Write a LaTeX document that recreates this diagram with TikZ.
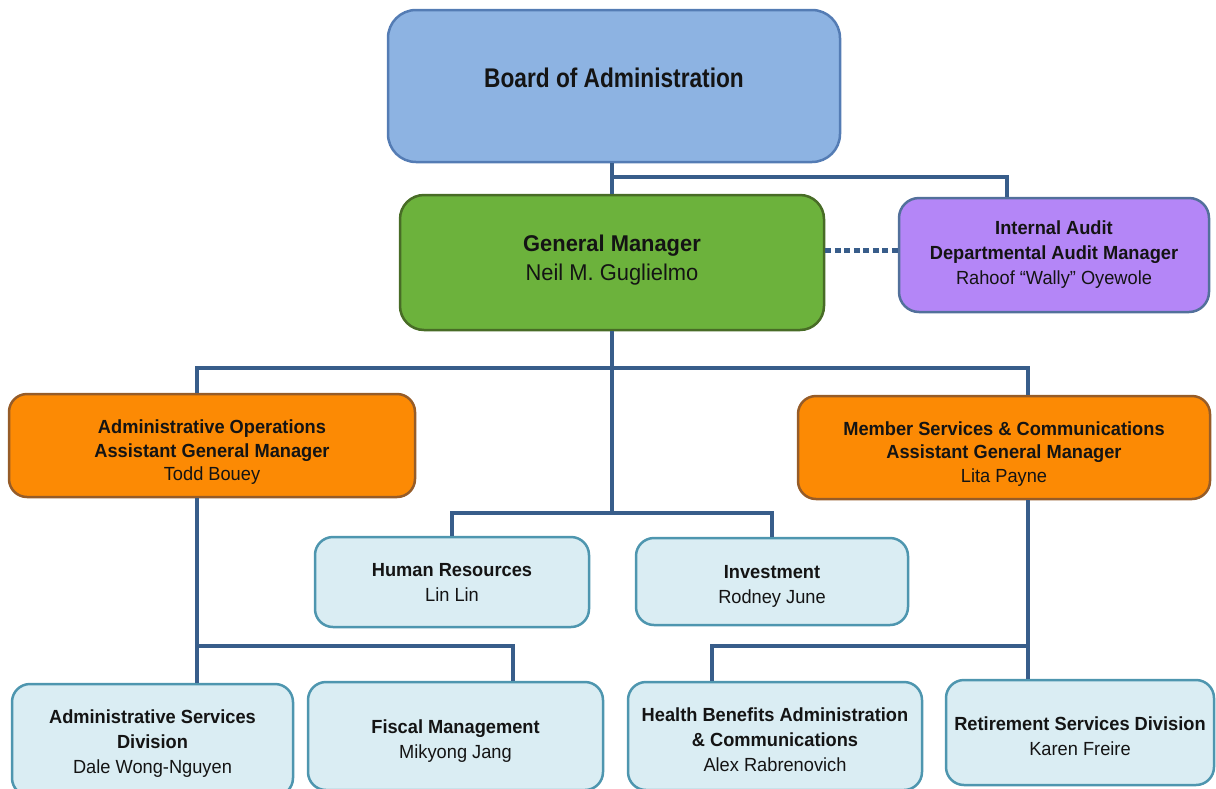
\documentclass[tikz,border=0pt]{standalone}
\usepackage{fontspec}
\setmainfont{Liberation Sans}[FakeStretch=0.96]
\newfontfamily\boardfont{Liberation Sans}[FakeStretch=0.84]
\definecolor{lnc}{RGB}{56,93,138}
\definecolor{boardfill}{RGB}{141,179,226}
\definecolor{boarddraw}{RGB}{84,124,180}
\definecolor{gmfill}{RGB}{108,178,60}
\definecolor{gmdraw}{RGB}{72,108,38}
\definecolor{audfill}{RGB}{180,134,247}
\definecolor{auddraw}{RGB}{82,112,155}
\definecolor{orfill}{RGB}{252,138,4}
\definecolor{ordraw}{RGB}{150,92,40}
\definecolor{ltfill}{RGB}{218,237,243}
\definecolor{ltdraw}{RGB}{78,150,175}
\definecolor{txt}{RGB}{20,20,20}
\tikzset{
  box/.style={draw, line width=2.5pt, rounded corners=18pt, inner sep=0pt},
  boardbox/.style={box, fill=boardfill, draw=boarddraw, rounded corners=28pt},
  gmbox/.style={box, fill=gmfill, draw=gmdraw, rounded corners=24pt},
  audbox/.style={box, fill=audfill, draw=auddraw, rounded corners=20pt},
  orbox/.style={box, fill=orfill, draw=ordraw},
  ltbox/.style={box, fill=ltfill, draw=ltdraw},
  lbl/.style={align=center, inner sep=0pt, text=txt, font=\fontsize{19}{25}\selectfont},
  orlbl/.style={lbl, font=\fontsize{19}{23.5}\selectfont},
  gmlbl/.style={lbl, font=\fontsize{22.8}{29}\selectfont},
  boardlbl/.style={lbl, font=\boardfont\fontsize{27}{32}\selectfont\bfseries},
  conn/.style={draw=lnc, line width=4.5pt},
  dotconn/.style={draw=lnc, line width=5pt, dash pattern=on 6pt off 3.5pt}
}
\begin{document}
\begin{tikzpicture}[x=1pt,y=-1pt]
\useasboundingbox (0,0) rectangle (1216,788);

\coordinate (j1) at (612,177);
\coordinate (j2) at (612,368);
\coordinate (j3) at (612,513);
\coordinate (aL) at (197,646);
\coordinate (aR) at (1028,646);

% boxes
\node[boardbox, minimum width=452pt, minimum height=152pt] (board) at (614,86) {};
\node[gmbox, minimum width=424pt, minimum height=135pt] (gm) at (612,262.5) {};
\node[audbox, minimum width=310pt, minimum height=114pt] (audit) at (1054,255) {};
\node[orbox, minimum width=406pt, minimum height=103pt] (adminops) at (212,445.5) {};
\node[orbox, minimum width=412pt, minimum height=103pt] (member) at (1004,447.5) {};
\node[ltbox, minimum width=274pt, minimum height=90pt] (hr) at (452,582) {};
\node[ltbox, minimum width=272pt, minimum height=87pt] (inv) at (772,581.5) {};
\node[ltbox, minimum width=281pt, minimum height=112pt] (adminsvc) at (152.5,740) {};
\node[ltbox, minimum width=295pt, minimum height=108pt] (fiscal) at (455.5,736) {};
\node[ltbox, minimum width=294pt, minimum height=108pt] (health) at (775,736) {};
\node[ltbox, minimum width=268pt, minimum height=105pt] (retire) at (1080,732.5) {};

% texts
\node[boardlbl] (board-t) at (board.center |- 0,78) {Board of Administration};
\node[gmlbl] (gm-t) at (gm.center |- 0,260.5) {\textbf{General Manager}\\Neil M. Guglielmo};
\node[lbl] (audit-t) at (audit.center |- 0,254.5) {\textbf{Internal Audit}\\\textbf{Departmental Audit Manager}\\Rahoof “Wally” Oyewole};
\node[orlbl] (adminops-t) at (adminops.center |- 0,452.5) {\textbf{Administrative Operations}\\\textbf{Assistant General Manager}\\Todd Bouey};
\node[orlbl] (member-t) at (member.center |- 0,454) {\textbf{Member Services \& Communications}\\\textbf{Assistant General Manager}\\Lita Payne};
\node[lbl] (hr-t) at (hr.center |- 0,582.5) {\textbf{Human Resources}\\Lin Lin};
\node[lbl] (inv-t) at (inv.center |- 0,586) {\textbf{Investment}\\Rodney June};
\node[lbl] (adminsvc-t) at (adminsvc.center |- 0,744) {\textbf{Administrative Services}\\\textbf{Division}\\Dale Wong-Nguyen};
\node[lbl] (fiscal-t) at (fiscal.center |- 0,741.5) {\textbf{Fiscal Management}\\Mikyong Jang};
\node[lbl] (health-t) at (health.center |- 0,739.5) {\textbf{Health Benefits Administration}\\\textbf{\& Communications}\\Alex Rabrenovich};
\node[lbl] (retire-t) at (retire.center |- 0,736.5) {\textbf{Retirement Services Division}\\Karen Freire};

% connectors
\draw[conn] (board.south -| gm.north) -- (gm.north);
\draw[conn] (j1) -| ([xshift=-47pt]audit.north);
\draw[dotconn] (gm.east |- audit.west) ++(0,-5) -- ([yshift=5pt]audit.west);
\draw[conn] (gm.south) -- (j3);
\draw[conn] (adminops.north -| aL) |- (j2) -| (member.north -| aR);
\draw[conn] (hr.north) |- (j3) -| (inv.north);
\draw[conn] (adminops.south -| aL) -- (adminsvc.north -| aL);
\draw[conn] (aL) -| ([xshift=57.5pt]fiscal.north);
\draw[conn] (member.south -| aR) -- (retire.north -| aR);
\draw[conn] (aR) -| ([xshift=-63pt]health.north);
\end{tikzpicture}
\end{document}
